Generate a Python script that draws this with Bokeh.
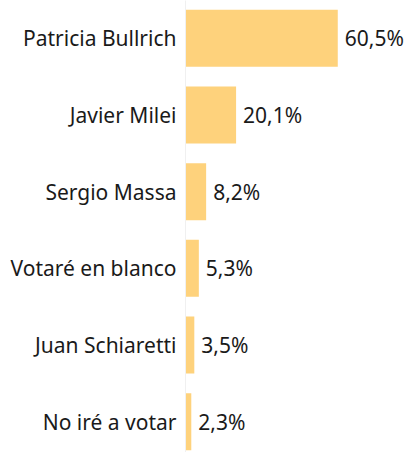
from bokeh.plotting import figure
from bokeh.models import ColumnDataSource, Range1d, LabelSet, FixedTicker
from bokeh.core.properties import value
from bokeh.embed import file_html
from bokeh.resources import INLINE

candidates = ["Patricia Bullrich", "Javier Milei", "Sergio Massa",
              "Votaré en blanco", "Juan Schiaretti", "No iré a votar"]
values = [60.5, 20.1, 8.2, 5.3, 3.5, 2.3]
value_labels = ["60,5%", "20,1%", "8,2%", "5,3%", "3,5%", "2,3%"]
positions = list(range(len(candidates)))

FONT = "Noto Sans"
FS = "21px"

src = ColumnDataSource(dict(pos=positions, val=values, lab=value_labels))

p = figure(width=410, height=452, output_backend="svg", toolbar_location=None,
           y_range=Range1d(start=5.402, end=-0.493),
           x_range=Range1d(0, 89.4),
           min_border_left=185, min_border_right=0, min_border_top=0,
           min_border_bottom=0, outline_line_color=None)

p.hbar(y="pos", right="val", left=0, height=0.743, source=src,
       fill_color="#FED27C", line_color=None)

labels = LabelSet(x="val", y="pos", text="lab", source=src, x_offset=7,
                  text_baseline="middle", text_font=value(FONT),
                  text_font_size=value(FS), text_color="#1a1a1a")
p.add_layout(labels)

p.xaxis.visible = False
p.xgrid.visible = False
p.ygrid.visible = False
ax = p.yaxis[0]
ax.ticker = FixedTicker(ticks=positions)
ax.major_label_overrides = {i: c for i, c in zip(positions, candidates)}
ax.axis_line_color = "#f0f0f0"
ax.major_tick_line_color = None
ax.minor_tick_line_color = None
ax.major_tick_out = 0
ax.major_tick_in = 0
ax.major_label_standoff = 9
ax.major_label_text_font = FONT
ax.major_label_text_font_size = FS
ax.major_label_text_color = "#1a1a1a"

open("out.html", "w").write(file_html(p, INLINE))
